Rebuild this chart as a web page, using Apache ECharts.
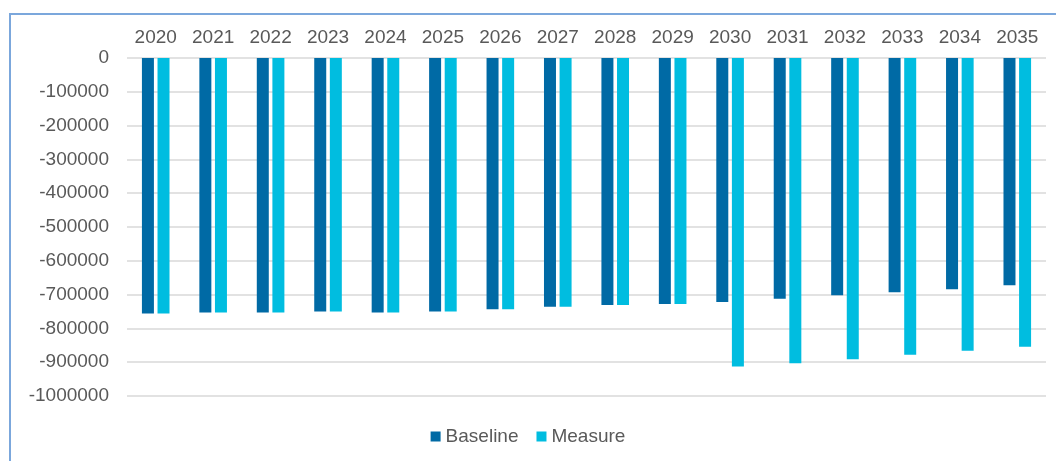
<!DOCTYPE html>
<html>
<head>
<meta charset="utf-8">
<script src="https://cdn.jsdelivr.net/npm/echarts@6/dist/echarts.min.js"></script>
<style>
  html, body { margin: 0; padding: 0; background: #fff; }
  #main { width: 1056px; height: 461px; }
</style>
</head>
<body>
<div id="main"></div>
<script>
const years = ['2020', '2021', '2022', '2023', '2024', '2025', '2026', '2027',
  '2028', '2029', '2030', '2031', '2032', '2033', '2034', '2035'];
const baseline = [-756000, -753000, -753000, -750000, -753000, -750000, -743000, -736000,
  -731000, -728000, -722000, -712000, -702000, -693000, -684000, -672000];
const measure = [-756000, -753000, -753000, -750000, -753000, -750000, -743000, -736000,
  -731000, -728000, -913000, -903000, -891000, -878000, -866000, -854000];

const chartDom = document.getElementById('main');
const myChart = echarts.init(chartDom);

const textColor = '#595959';
const font = 'Liberation Sans, Arial, sans-serif';

let option = {
  animation: false,
  graphic: [{
    type: 'rect',
    shape: { x: 10, y: 14, width: 1100, height: 500 },
    style: { fill: 'none', stroke: '#7ba7dc', lineWidth: 2 }
  }],
  grid: {
    left: 127,
    right: 10,
    top: 58,
    bottom: 65
  },
  legend: {
    bottom: 10,
    left: 'center',
    icon: 'rect',
    itemWidth: 10,
    itemHeight: 10,
    itemGap: 18,
    textStyle: { color: textColor, fontSize: 19, fontFamily: font }
  },
  xAxis: {
    type: 'category',
    position: 'top',
    data: years,
    axisLine: { show: false },
    axisTick: { show: false },
    axisLabel: { color: textColor, fontSize: 19, fontFamily: font, margin: 11 }
  },
  yAxis: {
    type: 'value',
    min: -1000000,
    max: 0,
    interval: 100000,
    axisLine: { show: false },
    axisTick: { show: false },
    axisLabel: {
      color: textColor, fontSize: 19, fontFamily: font, margin: 18,
      formatter: v => String(v)
    },
    splitLine: { lineStyle: { color: '#d9d9d9', width: 1.5 } }
  },
  series: [
    {
      name: 'Baseline',
      type: 'bar',
      data: baseline,
      barWidth: 12,
      barGap: '30%',
      itemStyle: { color: '#006aa5' }
    },
    {
      name: 'Measure',
      type: 'bar',
      data: measure,
      barWidth: 12,
      itemStyle: { color: '#00bde0' }
    }
  ]
};

myChart.setOption(option);
</script>
</body>
</html>
